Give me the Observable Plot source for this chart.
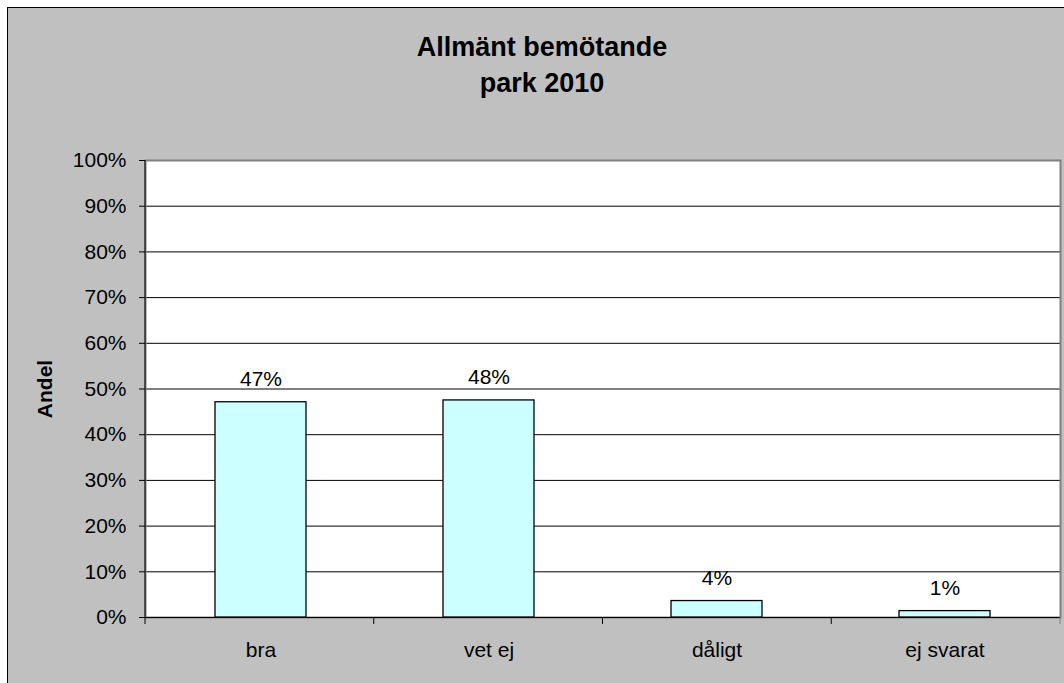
<!DOCTYPE html>
<html>
<head>
<meta charset="utf-8">
<script src="https://cdn.jsdelivr.net/npm/d3@7"></script>
<script src="https://cdn.jsdelivr.net/npm/@observablehq/plot@0.6"></script>
<style>
  html, body { margin: 0; padding: 0; background: #ffffff; overflow: hidden; }
  #wrap {
    position: absolute; left: 7px; top: 7px; width: 1056px; height: 675px;
    background: #c0c0c0; border-left: 1px solid #000; border-top: 1px solid #000;
    font-family: "Liberation Sans", Arial, sans-serif;
  }
  #title {
    height: 89px; padding-top: 21px; padding-left: 12px; box-sizing: content-box;
    text-align: center; font-weight: bold; font-size: 27px; line-height: 36px; color: #000;
  }
  #chart svg { display: block; }
</style>
</head>
<body>
<div id="wrap">
  <div id="title">Allmänt bemötande<br>park 2010</div>
  <div id="chart"></div>
</div>
<script>
const categories = ["bra", "vet ej", "dåligt", "ej svarat"];
const values = [0.471, 0.475, 0.036, 0.014];
const valueLabels = ["47%", "48%", "4%", "1%"];
const yTicks = [0, 0.1, 0.2, 0.3, 0.4, 0.5, 0.6, 0.7, 0.8, 0.9, 1.0];
const yLabel = "Andel";

const data = categories.map((c, i) => ({cat: c, value: values[i], label: valueLabels[i]}));

function categoryTicks(index, scales, values, dims) {
  const ns = "http://www.w3.org/2000/svg";
  const g = document.createElementNS(ns, "g");
  const left = dims.marginLeft, right = dims.width - dims.marginRight;
  const bottom = dims.height - dims.marginBottom, top = dims.marginTop;
  const n = categories.length, step = (right - left) / n;
  const ax = document.createElementNS(ns, "line");
  ax.setAttribute("x1", left); ax.setAttribute("x2", left);
  ax.setAttribute("y1", top); ax.setAttribute("y2", bottom);
  ax.setAttribute("stroke", "#000");
  g.appendChild(ax);
  for (let i = 0; i <= n; i++) {
    const x = left + i * step;
    const l = document.createElementNS(ns, "line");
    l.setAttribute("x1", x); l.setAttribute("x2", x);
    l.setAttribute("y1", bottom); l.setAttribute("y2", bottom + 7);
    l.setAttribute("stroke", i === n ? "#808080" : "#000");
    g.appendChild(l);
  }
  return g;
}

const chart = Plot.plot({
  width: 1056,
  height: 565,
  marginLeft: 137,
  marginRight: 4,
  marginTop: 42,
  marginBottom: 66,
  style: {background: "transparent", fontFamily: "'Liberation Sans', Arial, sans-serif", color: "#000"},
  x: {type: "band", domain: categories, paddingInner: 0.6, paddingOuter: 0.3, label: null},
  y: {domain: [0, 1], label: null},
  marks: [
    Plot.frame({fill: "#ffffff", stroke: null}),
    Plot.gridY(yTicks.slice(1, -1), {stroke: "#000", strokeOpacity: 1}),
    Plot.frame({stroke: "#808080", strokeWidth: 2}),
    Plot.barY(data, {x: "cat", y: "value", fill: "#ccffff", stroke: "#000", strokeWidth: 1.3}),
    Plot.text(data, {x: "cat", y: "value", text: "label", dy: -23, fontSize: 21, fill: "#000"}),
    Plot.ruleY([0], {stroke: "#000"}),
    Plot.axisY(yTicks, {tickFormat: d3.format(".0%"), tickSize: 6, tickPadding: 13, fontSize: 21, stroke: "#000", label: null}),
    Plot.axisX({tickSize: 0, tickPadding: 25, fontSize: 21, label: null}),
    categoryTicks,
    Plot.text([yLabel], {frameAnchor: "left", textAnchor: "middle", dx: -100, rotate: -90, fontSize: 21, fontWeight: "bold", fill: "#000"})
  ]
});
document.getElementById("chart").appendChild(chart);
</script>
</body>
</html>
